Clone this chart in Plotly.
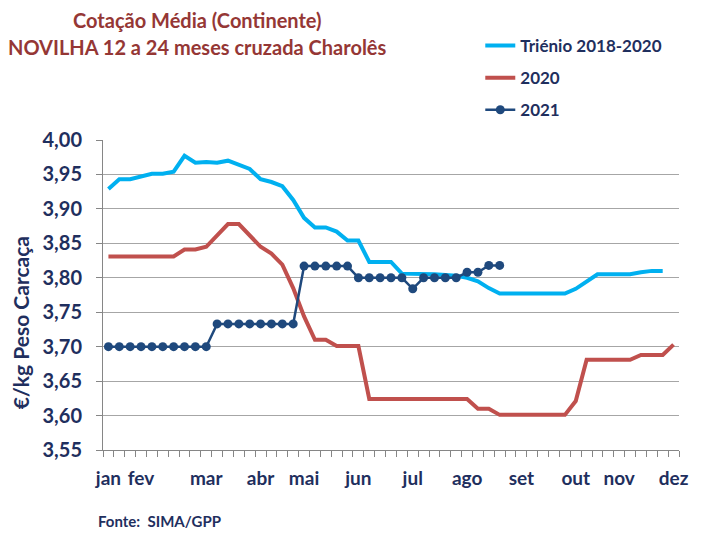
import plotly.graph_objects as go

weeks = list(range(1, 54))

trienio = [3.929, 3.943, 3.943, 3.947, 3.951, 3.951, 3.954, 3.977, 3.967, 3.968,
           3.967, 3.970, 3.964, 3.958, 3.943, 3.939, 3.933, 3.913, 3.887, 3.873,
           3.873, 3.867, 3.854, 3.854, 3.823, 3.823, 3.823, 3.806, 3.806, 3.806,
           3.805, 3.804, 3.803, 3.800, 3.795, 3.785, 3.777, 3.777, 3.777, 3.777,
           3.777, 3.777, 3.777, 3.784, 3.795, 3.805, 3.805, 3.805, 3.805, 3.808,
           3.810, 3.810]

s2020 = [3.831, 3.831, 3.831, 3.831, 3.831, 3.831, 3.831, 3.841, 3.841, 3.845,
         3.861, 3.878, 3.878, 3.861, 3.845, 3.835, 3.819, 3.785, 3.744, 3.710,
         3.710, 3.701, 3.701, 3.701, 3.624, 3.624, 3.624, 3.624, 3.624, 3.624,
         3.624, 3.624, 3.624, 3.624, 3.610, 3.610, 3.601, 3.601, 3.601, 3.601,
         3.601, 3.601, 3.601, 3.621, 3.681, 3.681, 3.681, 3.681, 3.681, 3.688,
         3.688, 3.688, 3.703]

s2021 = [3.700, 3.700, 3.700, 3.700, 3.700, 3.700, 3.700, 3.700, 3.700, 3.700,
         3.733, 3.733, 3.733, 3.733, 3.733, 3.733, 3.733, 3.733, 3.817, 3.817,
         3.817, 3.817, 3.817, 3.800, 3.800, 3.800, 3.800, 3.800, 3.784, 3.800,
         3.800, 3.800, 3.800, 3.808, 3.808, 3.818, 3.818]

month_weeks = [1, 4, 10, 15, 19, 24, 29, 34, 39, 44, 48, 53]
month_labels = ["jan", "fev", "mar", "abr", "mai", "jun", "jul", "ago", "set", "out", "nov", "dez"]

NAVY = "#1F2F5E"
FONT = "Lato"

W, H = 693, 525
L, R, T, B = 95, 14, 132, 83
PW, PH = W - L - R, H - T - B

def px(x):
    return (x - L) / PW

def py(y):
    return 1 + (T - y) / PH

fig = go.Figure()
fig.add_trace(go.Scatter(x=weeks[:len(trienio)], y=trienio, mode="lines",
                         name="Triénio 2018-2020", legendgroup="a",
                         line=dict(color="#00B0F0", width=4)))
fig.add_trace(go.Scatter(x=weeks[:len(s2020)], y=s2020, mode="lines",
                         name="2020", legendgroup="b",
                         line=dict(color="#C0504D", width=4)))
fig.add_trace(go.Scatter(x=weeks[:len(s2021)], y=s2021, mode="lines+markers",
                         name="2021", legendgroup="c",
                         line=dict(color="#1F497D", width=2.5),
                         marker=dict(color="#1F497D", size=9)))

fig.update_layout(
    width=W, height=H,
    margin=dict(l=L, r=R, t=T, b=B),
    paper_bgcolor="white", plot_bgcolor="white",
    separators=",.",
    font=dict(family=FONT, color=NAVY),
    showlegend=True,
    legend=dict(x=0.655, y=py(20), xanchor="left", yanchor="top",
                font=dict(family=FONT, size=17, color=NAVY, weight="bold"),
                traceorder="grouped", tracegroupgap=7, itemwidth=30,
                bgcolor="rgba(0,0,0,0)"),
    xaxis=dict(range=[0.5, 53.5], tickmode="array", tickvals=month_weeks,
               ticktext=month_labels, ticks="", showgrid=False, zeroline=False,
               showline=True, linecolor="#868686", linewidth=1,
               ticklabelstandoff=11,
               tickfont=dict(family=FONT, size=19, color=NAVY, weight="bold"),
               minor=dict(tick0=0.5, dtick=1, ticks="outside", ticklen=6,
                          tickcolor="#868686", tickwidth=1, showgrid=False)),
    yaxis=dict(range=[3.55, 4.0], tickmode="linear", tick0=3.55, dtick=0.05,
               tickformat=".2f", ticks="outside", ticklen=6, tickcolor="#868686",
               showgrid=True, gridcolor="#A6A6A6", gridwidth=1, zeroline=False,
               showline=True, linecolor="#868686", linewidth=1,
               ticklabelstandoff=10,
               tickfont=dict(family=FONT, size=20, color=NAVY, weight="bold")),
)

fig.add_annotation(text="<b>€/kg Peso Carcaça</b>", xref="paper", yref="paper",
                   x=px(11), y=py(315), xanchor="center", yanchor="middle",
                   textangle=-90, showarrow=False,
                   font=dict(family=FONT, size=21, color=NAVY))
fig.add_annotation(text="<b>Cotação Média (Continente)</b>", xref="paper", yref="paper",
                   x=px(191), y=py(12), xanchor="center", yanchor="middle",
                   showarrow=False, font=dict(family=FONT, size=20, color="#953735"))
fig.add_annotation(text="<b>NOVILHA 12 a 24 meses cruzada Charolês</b>", xref="paper", yref="paper",
                   x=px(191), y=py(39), xanchor="center", yanchor="middle",
                   showarrow=False, font=dict(family=FONT, size=20, color="#953735"))
fig.add_annotation(text="<b>Fonte:  SIMA/GPP</b>", xref="paper", yref="paper",
                   x=px(88), y=py(513), xanchor="left", yanchor="middle",
                   showarrow=False, font=dict(family=FONT, size=15, color=NAVY))

fig.write_html("out.html")
